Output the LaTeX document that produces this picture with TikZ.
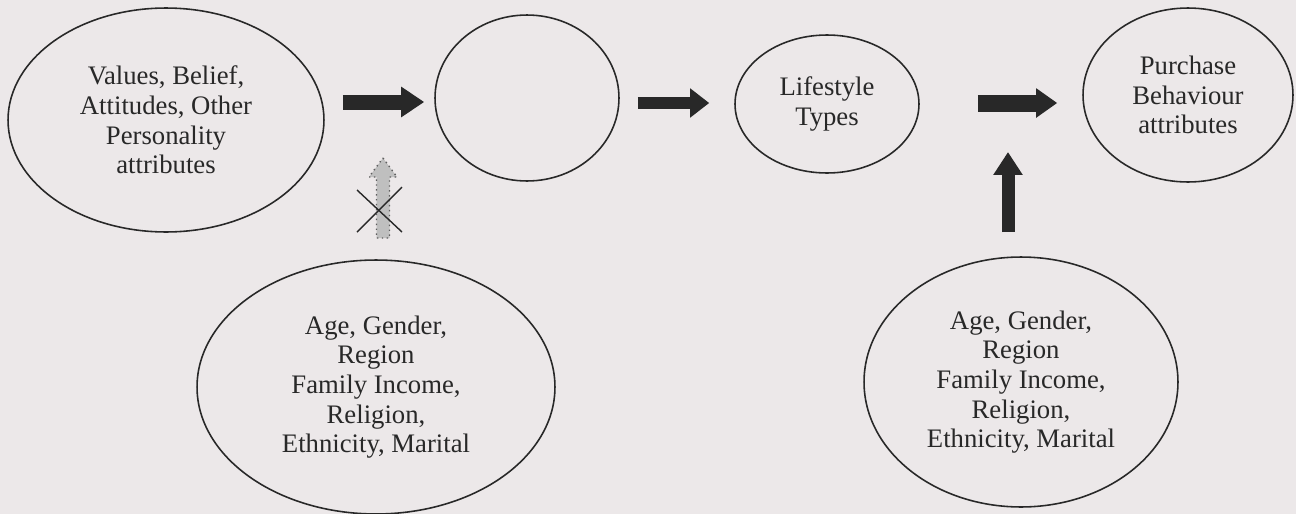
\documentclass[tikz,border=0pt]{standalone}
\usepackage{fontspec}
\setmainfont{Liberation Serif}
\usetikzlibrary{shapes.geometric,arrows.meta,calc}

\definecolor{paper}{RGB}{236,232,233}
\definecolor{ink}{RGB}{40,40,40}

\begin{document}
\begin{tikzpicture}[x=0.02cm,y=-0.02cm,
  oval/.style={ellipse,draw=ink,line width=0.9pt,inner sep=0pt,align=center,
    text=ink,font=\fontsize{15.2}{16.9}\selectfont},
  barrow/.style={ink,line width=#1},
  barrow/.default=0.3cm]
  \fill[paper] (0,0) rectangle (1296,514);
  \useasboundingbox (0,0) rectangle (1296,514);

  \node[oval,minimum width=6.32cm,minimum height=4.48cm] (values) at (166,120)
    {Values, Belief,\\Attitudes, Other\\Personality\\attributes};
  \node[oval,minimum width=3.68cm,minimum height=3.32cm] (blank) at (527,98) {};
  \node[oval,minimum width=3.68cm,minimum height=2.76cm] (life) at (827,104)
    {Lifestyle\\Types};
  \node[oval,minimum width=4.2cm,minimum height=3.48cm] (buy) at (1188,95)
    {Purchase\\Behaviour\\attributes};
  \node[oval,minimum width=7.16cm,minimum height=5.08cm] (demoA) at (376,387)
    {Age, Gender,\\Region\\Family Income,\\Religion,\\Ethnicity, Marital};
  \node[oval,minimum width=6.28cm,minimum height=5cm] (demoB) at (1021,382)
    {Age, Gender,\\Region\\Family Income,\\Religion,\\Ethnicity, Marital};

  % block arrows along the top row
  \draw[barrow=0.3cm,-{Triangle[width=0.58cm,length=0.46cm]},shorten <=0.36cm,shorten >=0.2cm]
    (values.east |- 0,102) -- (blank.west |- 0,102);
  \draw[barrow=0.24cm,-{Triangle[width=0.56cm,length=0.38cm]},shorten <=0.36cm,shorten >=0.5cm]
    (blank.east |- 0,103) -- (life.west |- 0,103);
  \draw[barrow=0.34cm,-{Triangle[width=0.56cm,length=0.42cm]},shorten <=1.16cm,shorten >=0.5cm]
    (life.east |- 0,103) -- (buy.west |- 0,103);

  % demographics into purchase behaviour
  \coordinate (uptip) at (1008,152);
  \draw[barrow=0.26cm,-{Triangle[width=0.56cm,length=0.46cm]},shorten <=0.48cm]
    (uptip |- demoB.north) -- (uptip);

  % crossed out link
  \coordinate (gtip) at (383,158);
  \draw[ink!75,dotted,line width=0.8pt,fill=black!25]
    (gtip) -- ++(14,19) -- ++(-7.5,0) -- ++(0,61) -- ++(-13,0) -- ++(0,-61)
    -- ++(-7.5,0) -- cycle;
  \draw[ink,line width=0.8pt] ($(gtip)+(-26,32)$) -- ($(gtip)+(19,74)$);
  \draw[ink,line width=0.8pt] ($(gtip)+(19,29)$) -- ($(gtip)+(-26,74)$);
\end{tikzpicture}
\end{document}
